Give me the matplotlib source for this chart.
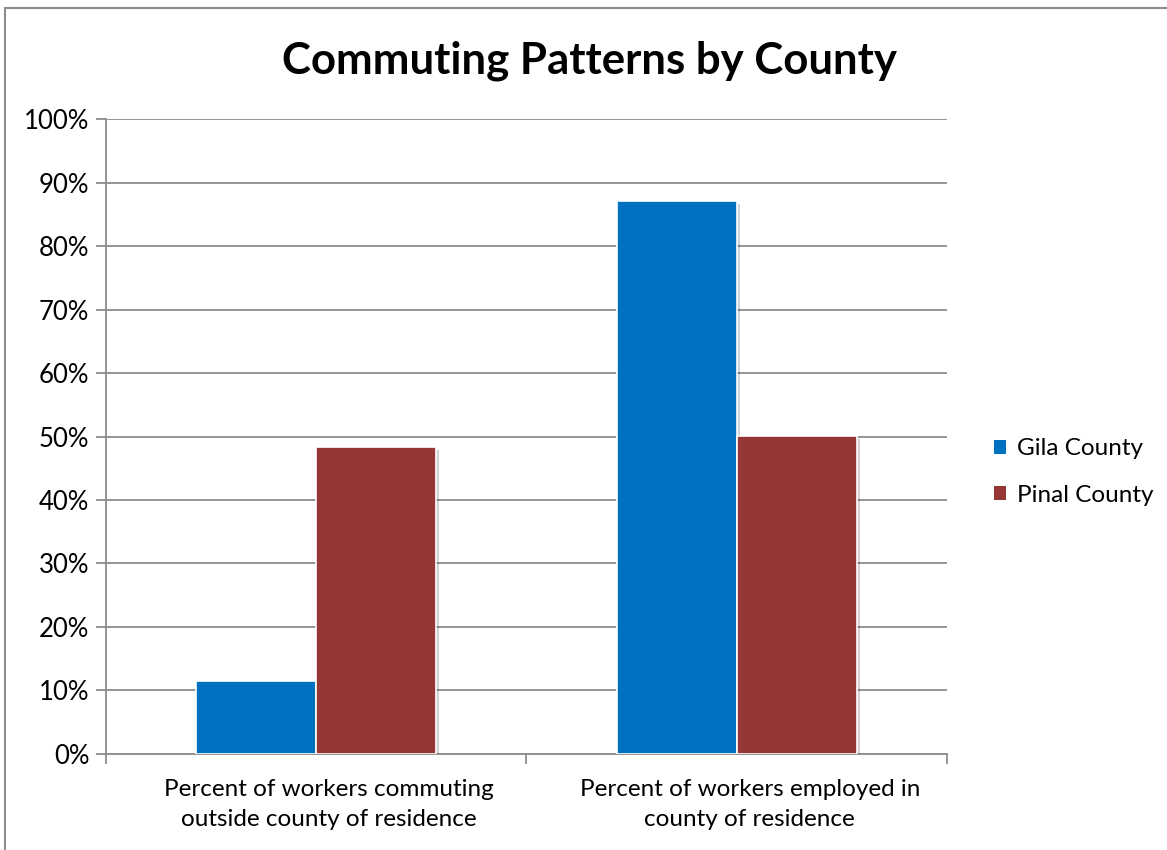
import matplotlib.pyplot as plt
import matplotlib.patheffects as pe
import matplotlib.transforms as mtransforms
from matplotlib.patches import Rectangle
import numpy as np

plt.rcParams['font.family'] = ['Lato', 'DejaVu Sans']

# --- DATA ---
categories = ['Percent of workers commuting\noutside county of residence',
              'Percent of workers employed in\ncounty of residence']
gila = [11.5, 87.1]
pinal = [48.3, 50.1]
series_names = ['Gila County', 'Pinal County']
colors = ['#0070C0', '#953735']

fig = plt.figure(figsize=(11.67, 8.5), dpi=100)
ax = fig.add_axes([0.0908, 0.1133, 0.7207, 0.7463])

x = np.arange(len(categories))
w = 1 / 3.5
shadow = [pe.SimplePatchShadow(offset=(2, -2), alpha=0.2), pe.Normal()]
for vals, name, c, off in [(gila, series_names[0], colors[0], -w / 2),
                           (pinal, series_names[1], colors[1], w / 2)]:
    bars = ax.bar(x + off, vals, width=w, color=c, edgecolor='white',
                  linewidth=1.2, label=name, zorder=3)
    for b in bars:
        b.set_path_effects(shadow)

ax.set_xlim(-0.5, 1.5)
ax.set_ylim(0, 100)
ax.set_yticks(range(0, 101, 10))
ax.set_yticklabels([f'{v}%' for v in range(0, 101, 10)], fontsize=18.5)
ax.yaxis.grid(True, color='#8c8c8c', linewidth=1.3, zorder=0)
ax.set_axisbelow(True)

ax.set_xticks([-0.5, 0.5, 1.5])
ax.set_xticklabels([])
ax.set_xticks(x, minor=True)
ax.set_xticklabels(categories, minor=True, fontsize=17.5, linespacing=1.55)
ax.tick_params(axis='x', which='minor', length=0, pad=18)
ax.tick_params(axis='x', which='major', length=7, color='#8c8c8c', width=1.3)
ax.tick_params(axis='y', length=7, color='#8c8c8c', width=1.3, pad=5)

# category labels sit a little right of the bar centres in the original
shift = mtransforms.ScaledTranslation(0.13, 0, fig.dpi_scale_trans)
for lab in ax.get_xticklabels(minor=True):
    lab.set_transform(lab.get_transform() + shift)

for s in ['top', 'right']:
    ax.spines[s].set_visible(False)
for s in ['left', 'bottom']:
    ax.spines[s].set_color('#8c8c8c')
    ax.spines[s].set_linewidth(1.3)

fig.text(0.505, 0.928, 'Commuting Patterns by County', ha='center', va='center',
         fontsize=31.5, fontweight='bold')

leg = ax.legend(loc='center left', bbox_to_anchor=(1.03, 0.444), frameon=False,
                fontsize=17.5, handlelength=0.5, handleheight=0.5,
                handletextpad=0.45, labelspacing=1.05)
for h in leg.legend_handles:
    h.set_path_effects([])
    h.set_edgecolor('none')

fig.patches.append(Rectangle((0.0043, -0.01), 1.1, 1.0 - 0.0094 + 0.01,
                             transform=fig.transFigure, fill=False,
                             edgecolor='#8c8c8c', linewidth=1.5))

fig.savefig('out.png', dpi=100)
